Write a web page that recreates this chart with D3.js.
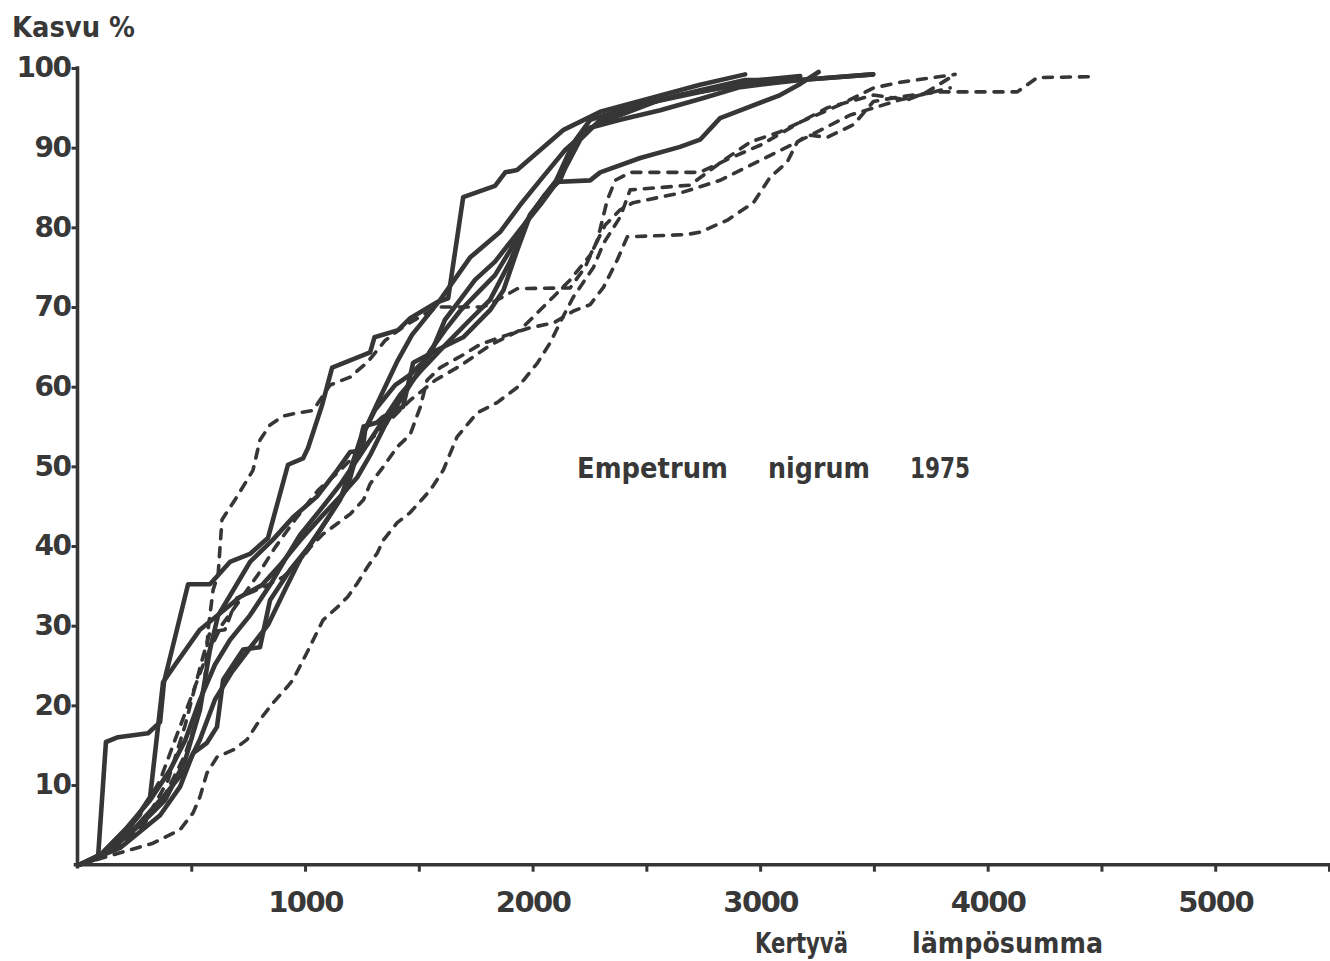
<!DOCTYPE html>
<html>
<head>
<meta charset="utf-8">
<script src="https://cdn.jsdelivr.net/npm/d3@7"></script>
<style>
  html, body { margin: 0; padding: 0; background: #ffffff; }
  svg { display: block; }
  text { font-family: "DejaVu Sans", "Liberation Sans", sans-serif; font-weight: bold; fill: #383838; }
</style>
</head>
<body>
<svg id="chart" width="1330" height="961"></svg>
<script>
// Empetrum nigrum 1975: cumulative growth (%) against accumulated heat sum.
// Each series is a list of [heat sum, growth %] points.

// Solid curves
const solid1 = [[10,0],[90,0.8],[125,15.4],[178,16.0],[310,16.5],[363,17.9],[380,22.9],[486,35.2],[582,35.2],[670,38.0],[758,39.0],[837,41.0],[925,50.2],[991,51.0],[1013,52.3],[1075,57.7],[1119,62.4],[1286,64.3],[1305,66.2],[1409,67.1],[1462,68.6],[1580,70.6],[1629,71.1],[1695,83.8],[1835,85.2],[1880,86.9],[1932,87.2],[2134,92.2],[2297,94.5],[2517,96.2],[2736,97.9],[2934,99.2]];
const solid2 = [[10,0],[100,1.2],[209,3.7],[319,8.5],[376,22.9],[429,25.1],[538,29.5],[714,33.6],[811,35.1],[890,37.6],[978,40.7],[1066,43.5],[1154,46.2],[1229,48.6],[1286,51.4],[1352,55.2],[1418,58.3],[1484,61.2],[1550,64.5],[1615,67.1],[1681,69.5],[1769,72.1],[1835,74.0],[1901,77.1],[1969,80.6],[2055,84.1],[2121,85.9],[2187,90.9],[2253,93.5],[2385,94.7],[2648,96.6],[2912,97.9],[3176,98.5],[3497,99.2]];
const solid3 = [[10,0],[143,1.8],[275,5.0],[385,8.1],[473,13.1],[538,19.4],[582,27.0],[618,31.3],[679,34.2],[758,38.0],[859,40.8],[947,43.6],[1052,46.2],[1141,49.5],[1198,51.8],[1253,52.0],[1264,54.6],[1321,58.1],[1404,63.1],[1470,66.5],[1594,70.9],[1725,76.2],[1857,79.4],[1945,82.8],[2033,85.9],[2143,89.7],[2253,92.5],[2385,93.5],[2561,94.7],[2736,96.1],[2912,97.6],[3176,98.5],[3497,99.2]];
const solid4 = [[10,0],[187,2.1],[363,6.2],[451,9.8],[508,14.0],[569,15.3],[613,17.3],[640,23.2],[728,27.0],[802,27.3],[846,33.2],[934,37.0],[1022,40.1],[1110,43.9],[1187,47.4],[1229,51.7],[1257,55.0],[1317,55.5],[1343,56.2],[1431,57.5],[1475,63.0],[1580,64.6],[1695,66.2],[1813,69.6],[1872,72.1],[1932,77.1],[1989,81.5],[2055,84.1],[2099,85.7],[2253,85.9],[2297,86.9],[2473,88.7],[2648,90.1],[2736,91.0],[2824,93.7],[3088,96.6],[3176,98.0],[3257,99.5]];
const solid5 = [[10,0],[99,1.2],[209,4.4],[319,8.1],[407,11.9],[473,15.6],[538,20.7],[604,25.1],[670,28.2],[758,31.3],[846,35.1],[912,38.3],[978,41.4],[1066,44.5],[1154,47.7],[1242,51.4],[1330,55.2],[1418,59.0],[1506,61.9],[1615,65.2],[1725,68.4],[1813,70.9],[1901,75.7],[1989,81.6],[2099,85.6],[2165,89.7],[2253,92.5],[2385,94.1],[2561,96.0],[2736,97.2],[2934,98.5],[3132,98.5]];
const solid6 = [[10,0],[121,1.6],[253,4.6],[385,8.8],[473,11.9],[538,15.7],[604,20.7],[679,24.2],[758,27.2],[837,30.1],[912,34.5],[978,38.3],[1066,42.0],[1154,45.8],[1198,49.5],[1242,53.3],[1308,57.1],[1396,60.2],[1462,61.5],[1550,64.0],[1615,68.4],[1681,70.9],[1747,73.4],[1835,75.7],[1945,79.7],[2033,82.8],[2121,86.2],[2209,91.0],[2297,93.5],[2473,95.4],[2736,97.0],[3000,98.5],[3176,99.0]];

// Dashed curves
const dashed1 = [[10,0],[143,1.6],[275,4.4],[385,8.8],[473,13.8],[530,18.8],[560,23.2],[574,29.5],[596,34.5],[618,36.4],[635,43.3],[701,46.2],[771,49.5],[802,53.3],[846,55.2],[903,56.3],[965,56.7],[1035,57.0],[1110,60.2],[1198,61.2],[1275,63.1],[1352,65.8],[1440,67.7],[1580,70.0],[1784,70.0],[1872,71.3],[1932,72.3],[2165,72.4],[2231,75.0],[2285,78.4],[2328,83.4],[2363,85.9],[2429,86.9],[2736,86.9],[2869,88.7],[3000,90.3],[3176,93.2],[3352,95.4],[3498,97.5],[3615,98.2],[3857,99.2]];
const dashed2 = [[10,0],[165,1.8],[297,5.4],[398,10.6],[473,17.5],[538,24.7],[582,29.2],[648,29.5],[701,33.5],[815,34.8],[903,36.1],[965,37.7],[1022,39.8],[1079,41.5],[1141,42.8],[1198,44.0],[1257,45.8],[1286,47.8],[1343,49.9],[1404,52.4],[1462,54.0],[1506,57.4],[1536,60.8],[1594,62.4],[1695,64.0],[1769,65.3],[1890,66.5],[1989,67.4],[2092,68.0],[2180,69.5],[2253,70.3],[2312,72.5],[2372,75.9],[2416,78.8],[2679,79.1],[2736,79.4],[2856,80.9],[2971,83.1],[3044,86.3],[3119,88.2],[3163,90.7],[3208,91.6],[3295,91.3],[3411,92.9],[3498,95.8],[3615,96.4],[3791,97.0],[4130,97.0],[4218,98.8],[4442,98.9]];
const dashed3 = [[10,0],[187,1.5],[332,2.7],[451,4.4],[508,6.5],[538,8.5],[569,11.5],[613,13.5],[684,14.4],[745,15.7],[802,18.2],[859,20.3],[921,22.3],[947,23.2],[1008,26.6],[1079,30.7],[1141,32.3],[1187,33.6],[1229,35.3],[1275,37.4],[1317,39.1],[1343,40.7],[1404,42.9],[1462,44.2],[1550,47.0],[1607,49.5],[1668,53.7],[1756,56.7],[1844,58.0],[1932,59.9],[1960,60.8],[2022,63.0],[2077,65.5],[2134,68.8],[2180,71.3],[2268,75.0],[2312,78.0],[2385,81.3],[2429,84.7],[2692,85.3],[2839,88.4],[2956,90.7],[3088,92.0],[3176,93.2],[3295,95.0],[3498,96.6],[3648,96.0],[3734,97.0],[3835,98.8]];
const dashed4 = [[10,0],[143,1.8],[275,6.2],[363,10.6],[429,15.7],[495,20.7],[560,25.7],[635,30.1],[714,33.2],[793,36.4],[868,39.8],[956,43.3],[1057,47.0],[1154,49.5],[1242,52.0],[1352,55.2],[1462,58.3],[1572,60.8],[1681,62.6],[1813,65.2],[1945,67.1],[2022,69.3],[2092,71.3],[2165,73.4],[2253,76.5],[2319,80.3],[2385,82.2],[2442,83.1],[2648,84.3],[2824,85.9],[3000,88.4],[3176,90.9],[3396,94.1],[3615,96.0],[3835,97.5]];

const solidSeries = [solid1, solid2, solid3, solid4, solid5, solid6];
const dashedSeries = [dashed1, dashed2, dashed3, dashed4];

// Axis ticks and labels
const xTicks = [500, 1000, 1500, 2000, 2500, 3000, 3500, 4000, 4500, 5000, 5500];
const xLabelled = [1000, 2000, 3000, 4000, 5000];
const yTicks = [10, 20, 30, 40, 50, 60, 70, 80, 90, 100];

const yTitle = "Kasvu %";
const xTitleWords = ["Kertyvä", "lämpösumma"];
const captionWords = ["Empetrum", "nigrum", "1975"];

const ink = "#363636";
const svg = d3.select("#chart");

const x = d3.scaleLinear().domain([0, 5500]).range([77.5, 1329]);
const y = d3.scaleLinear().domain([0, 100]).range([864.7, 68]);

// Curves
const line = d3.line().x(d => x(d[0])).y(d => y(d[1]));

svg.append("g").selectAll("path")
  .data(dashedSeries)
  .join("path")
  .attr("d", line)
  .attr("fill", "none")
  .attr("stroke", ink)
  .attr("stroke-width", 3.6)
  .attr("stroke-linecap", "round")
  .attr("stroke-linejoin", "round")
  .attr("stroke-dasharray", "9,9");

svg.append("g").selectAll("path")
  .data(solidSeries)
  .join("path")
  .attr("d", line)
  .attr("fill", "none")
  .attr("stroke", ink)
  .attr("stroke-width", 4.6)
  .attr("stroke-linecap", "round")
  .attr("stroke-linejoin", "round");

// Axes
const xAxis = d3.axisBottom(x)
  .tickValues(xTicks)
  .tickSize(7)
  .tickSizeOuter(0)
  .tickFormat(d => xLabelled.includes(d) ? String(d) : "");

const gx = svg.append("g")
  .attr("transform", `translate(0,${y(0)})`)
  .call(xAxis);
gx.select(".domain").attr("d", `M${x(0) - 2},0H${x(5500)}`);

const yAxis = d3.axisLeft(y)
  .tickValues(yTicks)
  .tickSize(6)
  .tickPadding(1)
  .tickSizeOuter(0)
  .tickFormat(d => String(d));

const gy = svg.append("g")
  .attr("transform", `translate(${x(0)},0)`)
  .call(yAxis);
gy.select(".domain").attr("d", `M0,${y(100)}V${y(0) + 2}`);

[gx, gy].forEach(g => {
  g.select(".domain").attr("stroke", ink).attr("stroke-width", 3.6).attr("stroke-linecap", "square");
  g.selectAll(".tick line").attr("stroke", ink).attr("stroke-width", 3);
  g.selectAll(".tick text")
    .attr("fill", ink)
    .style("font-family", "\"DejaVu Sans\", sans-serif")
    .style("font-weight", "bold")
    .style("letter-spacing", "-1.5px");
});

gx.selectAll(".tick text")
  .attr("y", 47)
  .attr("dy", 0)
  .style("font-size", "29px");

gy.selectAll(".tick text")
  .style("font-size", "28px");

// Titles and caption
svg.append("text")
  .attr("x", 12).attr("y", 37)
  .attr("textLength", 123).attr("lengthAdjust", "spacingAndGlyphs")
  .style("font-size", "28px")
  .text(yTitle);

const xTitlePos = [[755, 93], [912, 191]];
svg.append("g").selectAll("text")
  .data(xTitleWords)
  .join("text")
  .attr("x", (d, i) => xTitlePos[i][0])
  .attr("y", 953)
  .attr("textLength", (d, i) => xTitlePos[i][1])
  .attr("lengthAdjust", "spacingAndGlyphs")
  .style("font-size", "28px")
  .text(d => d);

const captionPos = [[577, 151], [768, 102], [910, 60]];
svg.append("g").selectAll("text")
  .data(captionWords)
  .join("text")
  .attr("x", (d, i) => captionPos[i][0])
  .attr("y", 478)
  .attr("textLength", (d, i) => captionPos[i][1])
  .attr("lengthAdjust", "spacingAndGlyphs")
  .style("font-size", "29px")
  .text(d => d);
</script>
</body>
</html>
